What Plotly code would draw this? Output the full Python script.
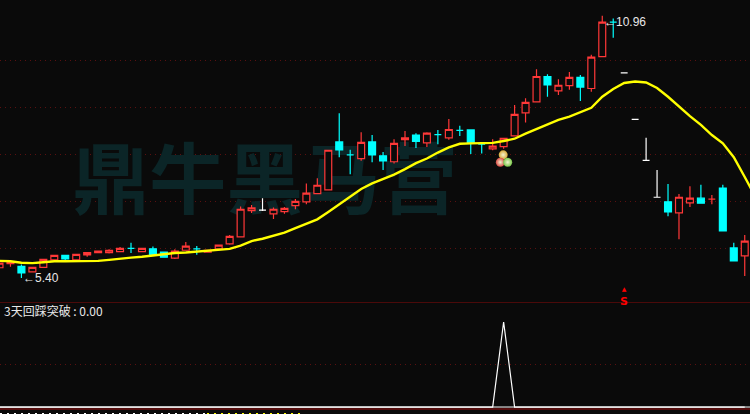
import plotly.graph_objects as go

# kind: r = rising (red hollow), c = falling (cyan), w = flat white
kinds = [
 'r','r','c','r','r','r','c','r','r','r','r','r','c','r','c','c','r','r','c','r','r','r','r','r','w',
 'r','r','r','r','r','r','c','c','r','c','c','r','r','c','r','c','r','c','c','c','r','r','r','r','r',
 'c','r','r','c','r','r','c','w','w','w','w','c','r','r','c','r','c','c','r']
tops = [5.72,5.74,5.65,5.63,5.80,5.89,5.89,5.91,5.95,5.98,6.00,6.04,6.04,6.04,6.03,5.96,5.98,6.09,6.03,6.00,6.11,6.30,6.89,6.92,6.87,
 6.89,6.91,7.06,7.24,7.41,8.17,8.35,8.07,8.34,8.35,8.05,8.32,8.44,8.50,8.54,8.51,8.62,8.60,8.61,8.30,8.26,8.43,8.95,9.21,9.77,
 9.77,9.58,9.75,9.75,10.19,10.95,10.95,9.85,8.84,7.95,7.15,7.05,7.15,7.13,7.13,7.11,7.35,6.05,6.20]
bottoms = [5.62,5.71,5.51,5.53,5.63,5.79,5.81,5.79,5.90,5.95,5.95,5.97,6.04,5.97,5.90,5.85,5.83,6.00,6.03,5.96,6.03,6.14,6.29,6.86,6.87,
 6.79,6.84,6.97,7.05,7.23,7.31,8.18,8.07,7.99,8.07,7.94,7.92,8.40,8.36,8.33,8.51,8.44,8.60,8.33,8.30,8.20,8.25,8.48,8.98,9.22,
 9.59,9.46,9.57,9.54,9.51,10.20,10.95,9.85,8.84,7.95,7.15,6.83,6.81,7.03,7.02,7.11,6.42,5.77,5.88]
highs = [5.72,5.74,5.69,5.63,5.80,5.89,5.89,5.91,5.95,5.98,6.02,6.07,6.16,6.04,6.08,5.96,6.02,6.18,6.09,6.01,6.11,6.33,6.95,6.98,7.13,
 6.93,6.94,7.11,7.45,7.56,8.17,8.97,8.18,8.56,8.50,8.13,8.41,8.59,8.54,8.56,8.61,8.85,8.70,8.61,8.33,8.41,8.44,9.15,9.30,9.93,
 9.82,9.71,9.87,9.80,10.24,11.09,11.03,9.85,8.84,8.44,7.74,7.44,7.22,7.39,7.42,7.20,7.42,6.16,6.33]
lows = [5.62,5.64,5.40,5.53,5.63,5.79,5.78,5.79,5.86,5.94,5.93,5.97,5.94,5.97,5.90,5.85,5.81,6.00,5.90,5.96,6.03,6.12,6.29,6.81,6.85,
 6.68,6.79,6.89,7.00,7.23,7.31,8.02,7.65,7.94,7.91,7.74,7.88,8.26,8.22,8.24,8.30,8.40,8.48,8.09,8.10,8.17,8.20,8.48,8.77,9.22,
 9.33,9.37,9.48,9.24,9.44,10.20,10.61,9.85,8.84,7.95,7.15,6.74,6.24,6.94,7.02,7.00,6.42,5.77,5.44]
ma_line = [5.77,5.76,5.73,5.72,5.74,5.76,5.76,5.76,5.76,5.77,5.79,5.82,5.84,5.86,5.89,5.91,5.94,5.95,5.97,5.98,6.00,6.03,6.10,6.20,6.25,
 6.32,6.38,6.48,6.57,6.67,6.83,7.00,7.18,7.33,7.45,7.55,7.64,7.76,7.89,7.99,8.12,8.23,8.31,8.32,8.33,8.33,8.37,8.42,8.53,8.63,
 8.73,8.83,8.90,8.99,9.09,9.33,9.50,9.63,9.66,9.64,9.52,9.33,9.11,8.91,8.72,8.50,8.32,8.02,7.59,7.15]
signal = [0]*46 + [1] + [0]*22
grid_prices = [10.11,9.09,8.07,7.05,6.03]
ball_x = [45.96,45.7,46.37]
ball_y = [8.07,7.91,7.91]
ball_colors = ["#d8a838","#d84a44","#78c848"]
low_label = "←5.40"
high_label = "←10.96"
indicator_label = "3天回踩突破 : 0.00"
watermark = "鼎牛黑马营"

BG = "#0a0a0a"
RED = "#ff3838"
CYAN = "#00ffff"
WHITE = "#ffffff"
GRID = "#5a1010"
PRICE_RANGE = [4.877, 11.43]
idx = list(range(len(tops)))

fig = go.Figure()
# watermark on the base axis so that everything else (overlay axis y3) is drawn above it
fig.add_trace(go.Scatter(x=[24.2], y=[7.33], mode="text", text=[watermark],
    textposition="middle center",
    textfont=dict(size=77, color="#0b2527", family="Noto Sans CJK SC", weight="bold"),
    hoverinfo="skip", cliponaxis=False))

for kind, col, fill in (("r", RED, BG), ("c", CYAN, CYAN), ("w", WHITE, WHITE)):
    sel = [i for i in idx if kinds[i] == kind]
    o = [bottoms[i] if kind == "r" else tops[i] for i in sel]
    c = [tops[i] if kind == "r" else bottoms[i] for i in sel]
    fig.add_trace(go.Candlestick(x=sel, open=o, close=c, yaxis="y3",
        high=[highs[i] for i in sel], low=[lows[i] for i in sel],
        increasing=dict(line=dict(color=col, width=1.2), fillcolor=fill),
        decreasing=dict(line=dict(color=col, width=1.2), fillcolor=fill),
        whiskerwidth=0, hoverinfo="skip"))

fig.add_trace(go.Scatter(x=list(range(len(ma_line))), y=ma_line, mode="lines", yaxis="y3",
    line=dict(color="#ffff00", width=2.4), hoverinfo="skip"))
fig.add_trace(go.Scatter(x=ball_x, y=ball_y, mode="markers", yaxis="y3",
    marker=dict(size=9, color=ball_colors, line=dict(width=0),
                gradient=dict(type="radial", color="#f4f4d0")), hoverinfo="skip"))
fig.add_trace(go.Scatter(x=idx, y=signal, mode="lines", xaxis="x", yaxis="y2",
    line=dict(color=WHITE, width=1.2), hoverinfo="skip"))

fig.update_layout(
    width=750, height=414, margin=dict(l=0, r=0, t=0, b=0),
    paper_bgcolor=BG, plot_bgcolor=BG, showlegend=False,
    boxgap=0.1,
    xaxis=dict(range=[0.046, 68.48], visible=False, rangeslider=dict(visible=False), fixedrange=True),
    yaxis=dict(domain=[112/414, 1], range=PRICE_RANGE, showticklabels=False, ticks="",
               showgrid=False, zeroline=False, showline=False),
    yaxis3=dict(overlaying="y", range=PRICE_RANGE, tickvals=grid_prices,
               showticklabels=False, ticks="", zeroline=False, showline=False,
               gridcolor=GRID, griddash="1px,4px", gridwidth=1),
    yaxis2=dict(domain=[0, 112/414], range=[-0.082, 1.235], tickvals=[0.5],
                showticklabels=False, ticks="", zeroline=False, showline=False,
                gridcolor=GRID, griddash="1px,4px", gridwidth=1),
    shapes=[
        dict(type="line", xref="paper", x0=0, x1=1, yref="y2", y0=1.235, y1=1.235,
             line=dict(color="#8b0a0a", width=1)),
        dict(type="line", xref="paper", x0=0, x1=1, yref="y2", y0=0, y1=0,
             line=dict(color=WHITE, width=1)),
        dict(type="line", xref="paper", x0=0, x1=1, yref="y2", y0=-0.0235, y1=-0.0235,
             line=dict(color="#a01010", width=1)),
        # unreadable, cut-off tops of the time row at the bottom edge
        dict(type="line", xref="paper", x0=0, x1=205/750, yref="paper", y0=0.5/414, y1=0.5/414,
             line=dict(color=WHITE, width=1, dash="2px,5px")),
        dict(type="line", xref="paper", x0=207/750, x1=300/750, yref="paper", y0=0.5/414, y1=0.5/414,
             line=dict(color="#ffff00", width=1, dash="2px,5px")),
    ],
    annotations=[
        dict(x=2, y=5.40, text=low_label, showarrow=False, xanchor="left", yanchor="middle",
             font=dict(size=12, color="#e8e8e8", family="Liberation Sans")),
        dict(x=55, y=10.96, text=high_label, showarrow=False, xanchor="left", yanchor="middle",
             font=dict(size=12, color="#e8e8e8", family="Liberation Sans")),
        dict(xref="paper", x=0.002, yref="y2", y=1.13, text=indicator_label, showarrow=False,
             xanchor="left", yanchor="middle",
             font=dict(size=12, color="#e8e8e8", family="Noto Sans CJK SC")),
        dict(x=57, y=5.00, text="<span style='font-size:6px'>▲</span><br><b>S</b>", showarrow=False,
             yanchor="middle", font=dict(size=11, color="#ff0000", family="DejaVu Sans")),
    ],
)
fig.write_html("out.html", config=dict(displayModeBar=False),
    post_script="document.body.style.margin='0';document.body.style.background='#0a0a0a';document.body.style.overflow='hidden';")
